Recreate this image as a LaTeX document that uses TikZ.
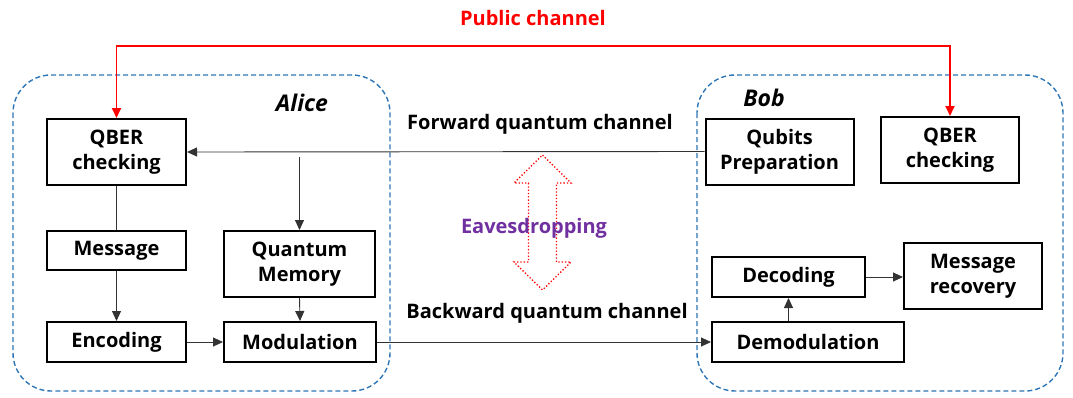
\documentclass[tikz,border=0pt]{standalone}
\usepackage{fontspec}
\setmainfont{Open Sans}
\usetikzlibrary{arrows.meta}
\definecolor{partyblue}{HTML}{2E75B6}
\definecolor{evepurple}{HTML}{7030A0}
\tikzset{
  blk/.style={draw=black, line width=2pt, align=center, inner sep=0pt,
    font=\fontsize{20}{25}\selectfont\bfseries},
  party/.style={draw=partyblue, line width=1.4pt, dash pattern=on 5pt off 3pt,
    rounded corners=38pt},
  conn/.style={draw=black!80, line width=0.9pt},
  arr/.style={conn, -{Triangle[length=10pt,width=9pt]}},
  publine/.style={draw=red, line width=1.8pt,
    {Triangle[length=10pt,width=9pt]}-{Triangle[length=10pt,width=9pt]}},
  lbl/.style={font=\fontsize{20}{24}\selectfont\bfseries, inner sep=0pt},
  who/.style={font=\fontsize{23}{26}\selectfont\bfseries\itshape, inner sep=0pt}
}
\begin{document}
\begin{tikzpicture}[x=1pt,y=-1pt]
\useasboundingbox (0,0) rectangle (1073,397);

% Alice and Bob enclosures
\draw[party] (13,75) rectangle (390,391);
\draw[party] (697,75) rectangle (1063,391);
\node[who] (alice) at (302,103) {Alice};
\node[who] (bob) at (764,98) {Bob};

% Alice blocks
\node[blk, minimum width=139pt, minimum height=66pt] (aq) at (116.5,152) {QBER\\checking};
\node[blk, minimum width=139pt, minimum height=39pt] (msg) at (116.5,250.5) {Message};
\node[blk, minimum width=139pt, minimum height=40pt] (enc) at (116.5,342) {Encoding};
\node[blk, minimum width=151pt, minimum height=66pt] (qm) at (299.5,264) {Quantum\\Memory};
\node[blk, minimum width=152pt, minimum height=40pt] (mod) at (300,342) {Modulation};

% Bob blocks
\node[blk, minimum width=148pt, minimum height=66pt] (qp) at (779.5,151.5) {Qubits\\Preparation};
\node[blk, minimum width=138pt, minimum height=66pt] (bq) at (950,150) {QBER\\checking};
\node[blk, minimum width=153pt, minimum height=40pt] (dec) at (788.5,277) {Decoding};
\node[blk, minimum width=138pt, minimum height=66pt] (rec) at (973,276) {Message\\recovery};
\node[blk, minimum width=192pt, minimum height=40pt] (dem) at (808,342) {Demodulation};

% channel labels
\node[lbl, text=red] (pub) at (533,18) {Public channel};
\node[lbl] (fwd) at (540,124) {Forward quantum channel};
\node[lbl] (bwd) at (547,313) {Backward quantum channel};

% eavesdropping double arrow
\draw[red, line width=1.3pt, dotted]
  (542.5,155) -- (571,183) -- (556.5,183) -- (556.5,262) -- (571,262)
  -- (542.5,290) -- (514,262) -- (528.5,262) -- (528.5,183) -- (514,183) -- cycle;
\node[lbl, text=evepurple] (eve) at (534,228) {Eavesdropping};

% public channel
\coordinate (pubrun) at (533,46);
\draw[publine] (aq.north) |- (pubrun) -| (bq.north);

% forward channel
\draw[arr] (qp.west) -- (aq.east);
\coordinate (tap) at (299.5,157);
\draw[arr] (tap) -- (qm.north);

% Alice internal flow
\draw[conn] (aq.south) -- (msg.north);
\draw[arr] (msg.south) -- (enc.north);
\draw[arr] (qm.south) -- (mod.north);
\draw[arr] (enc.east) -- (mod.west);

% backward channel
\draw[arr] (mod.east) -- (dem.west);

% Bob internal flow
\draw[arr] (dem.north -| dec.south) -- (dec.south);
\draw[arr] (dec.east) -- (dec.east -| rec.west);
\end{tikzpicture}
\end{document}
